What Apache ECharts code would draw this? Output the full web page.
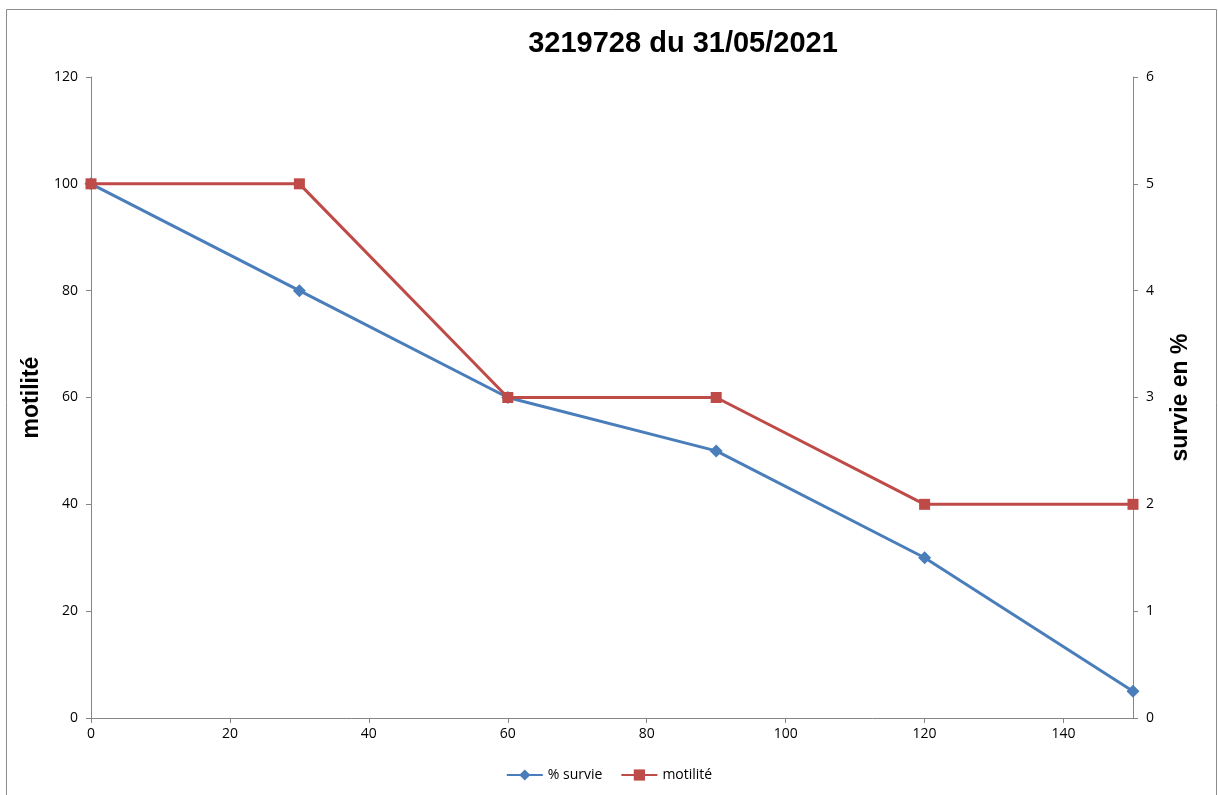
<!DOCTYPE html>
<html>
<head>
<meta charset="utf-8">
<script src="https://cdn.jsdelivr.net/npm/echarts@6/dist/echarts.min.js"></script>
<style>
html,body{margin:0;padding:0;background:#fff;}
#c{width:1218px;height:795px;}
</style>
</head>
<body>
<div id="c"></div>
<script>
var xValues = [0, 30, 60, 90, 120, 150];
var survie = [100, 80, 60, 50, 30, 5];
var motilite = [5, 5, 3, 3, 2, 2];
var titleText = '3219728 du 31/05/2021';

var chart = echarts.init(document.getElementById('c'));
var labelFont = {fontFamily: 'Open Sans, Liberation Sans, sans-serif', fontSize: 14, color: '#000'};
var axisLine = {show: true, lineStyle: {color: '#868686', width: 1}};
chart.setOption({
  animation: false,
  graphic: [{type: 'rect', shape: {x: 6.5, y: 9.5, width: 1210, height: 800}, style: {fill: 'none', stroke: '#8c8c8c', lineWidth: 1}, z: -1}],
  title: {text: titleText, left: 678, top: 24, textAlign: 'center',
    textStyle: {fontFamily: 'Liberation Sans, Arial, sans-serif', fontSize: 29, fontWeight: 'bold', color: '#000'}},
  grid: {left: 91, right: 85, top: 77, bottom: 77},
  legend: {bottom: 8, left: 'center', itemWidth: 36, itemHeight: 14, itemGap: 18,
    textStyle: {fontFamily: 'Open Sans, Liberation Sans, sans-serif', fontSize: 14, color: '#000'},
    data: ['% survie', 'motilité']},
  xAxis: {type: 'value', min: 0, max: 150, interval: 20,
    axisLine: axisLine, axisTick: {show: true, length: 5, lineStyle: {color: '#868686'}},
    axisLabel: Object.assign({margin: 9, showMaxLabel: false}, labelFont),
    splitLine: {show: false}},
  yAxis: [
    {type: 'value', min: 0, max: 120, interval: 20, position: 'left',
      name: 'motilité', nameLocation: 'middle', nameGap: 46, nameRotate: 90,
      nameTextStyle: {fontFamily: 'Liberation Sans, Arial, sans-serif', fontSize: 23, fontWeight: 'bold', color: '#000'},
      axisLine: axisLine, axisTick: {show: true, length: 5, lineStyle: {color: '#868686'}},
      axisLabel: Object.assign({margin: 13}, labelFont), splitLine: {show: false}},
    {type: 'value', min: 0, max: 6, interval: 1, position: 'right',
      name: 'survie en %', nameLocation: 'middle', nameGap: 36, nameRotate: 90,
      nameTextStyle: {fontFamily: 'Liberation Sans, Arial, sans-serif', fontSize: 23, fontWeight: 'bold', color: '#000'},
      axisLine: axisLine, axisTick: {show: true, length: 5, lineStyle: {color: '#868686'}},
      axisLabel: Object.assign({margin: 13}, labelFont), splitLine: {show: false}}
  ],
  series: [
    {name: '% survie', type: 'line', yAxisIndex: 0,
      data: xValues.map(function(x, i){return [x, survie[i]];}),
      symbol: 'diamond', symbolSize: 13, lineStyle: {color: '#4A7EBB', width: 3},
      itemStyle: {color: '#4A7EBB'}, z: 2},
    {name: 'motilité', type: 'line', yAxisIndex: 1,
      data: xValues.map(function(x, i){return [x, motilite[i]];}),
      symbol: 'rect', symbolSize: 11, lineStyle: {color: '#BE4B48', width: 3},
      itemStyle: {color: '#BE4B48'}, z: 3}
  ]
});
</script>
</body>
</html>
